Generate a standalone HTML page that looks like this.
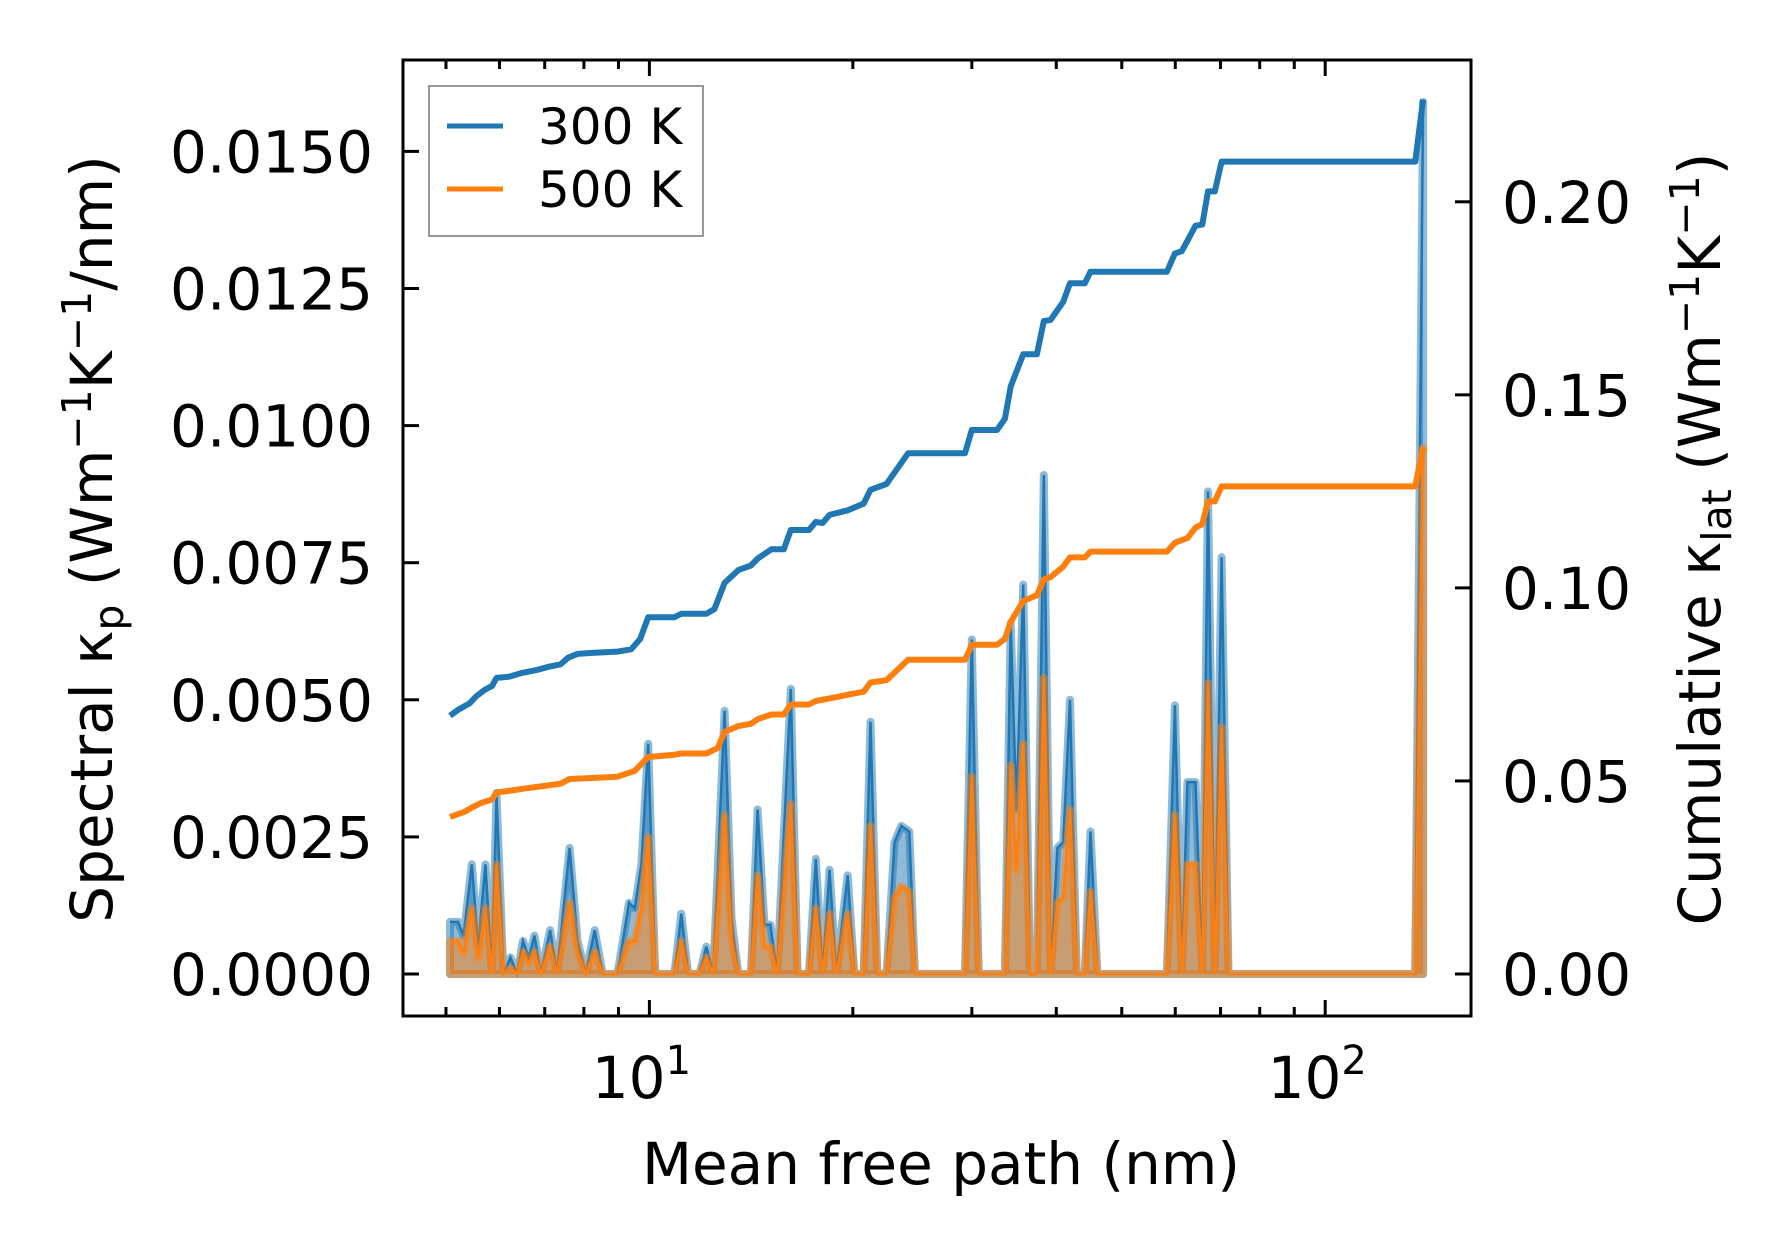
<!DOCTYPE html>
<html><head><meta charset="utf-8"><style>
html,body{margin:0;padding:0;background:#fff;}
svg{display:block;font-family:"DejaVu Sans","Liberation Sans",sans-serif;}
</style></head><body>
<svg id="chart" width="1790" height="1254" viewBox="0 0 1790 1254" xmlns="http://www.w3.org/2000/svg"></svg>
<script>
// ---- data ----
const specMfp = [5.07,5.21,5.31,5.46,5.58,5.72,5.85,5.94,6.08,6.23,6.37,6.50,6.63,6.76,6.91,7.13,7.30,7.62,7.83,8.05,8.30,8.53,8.97,9.33,9.51,9.73,9.96,10.20,10.89,11.15,11.41,11.86,12.14,12.43,12.92,13.23,13.54,14.13,14.46,14.80,15.10,15.45,16.19,16.57,17.22,17.63,18.04,18.47,18.90,19.65,20.11,20.75,21.24,21.74,22.43,23.05,23.59,24.24,24.71,29.31,30.00,30.71,32.68,33.58,34.25,34.92,35.74,36.58,37.45,38.33,39.23,40.16,40.95,41.92,42.90,44.09,44.95,46.01,58.32,59.93,61.34,62.54,64.27,65.78,67.07,68.65,70.26,71.92,135.9,139.6];
const spec300 = [0.00095,0.00095,0.0007,0.0020,0.0005,0.0020,0,0.0033,0,0.0003,0,0.0006,0.0003,0.0007,0,0.0008,0,0.0023,0.0006,0,0.0008,0,0,0.0013,0.0012,0.0020,0.0042,0,0,0.0011,0,0,0.0005,0,0.0048,0.0010,0,0,0.0030,0.0009,0.0009,0,0.0052,0,0,0.0021,0,0.0019,0,0.0018,0,0,0.0046,0,0,0.0024,0.0027,0.0026,0,0,0.0061,0,0,0,0.0064,0.0030,0.0071,0,0,0.0091,0,0.0023,0.0024,0.0050,0,0,0.0026,0,0,0.0049,0,0.0035,0.0035,0,0.0088,0,0.0076,0,0,0.0159];
const spec500 = [0.0006,0.0006,0.0004,0.0012,0.0003,0.0012,0,0.0020,0,0.0001,0,0.0004,0.0002,0.0004,0,0.0005,0,0.0013,0.0004,0,0.0004,0,0,0.0006,0.0006,0.0012,0.0025,0,0,0.0006,0,0,0.0003,0,0.0029,0.0006,0,0,0.0018,0.0005,0.0005,0,0.0031,0,0,0.0012,0,0.0011,0,0.0011,0,0,0.0027,0,0,0.0014,0.0016,0.0015,0,0,0.0036,0,0,0,0.0038,0.0019,0.0042,0,0,0.0054,0,0.0013,0.0014,0.0030,0,0,0.0015,0,0,0.0029,0,0.0020,0.0020,0,0.0053,0,0.0045,0,0,0.0096];
const cumMfp300 = [5.07,5.21,5.42,5.54,5.72,5.85,5.94,6.20,6.45,6.83,7.10,7.39,7.59,7.83,8.30,8.97,9.40,9.69,9.96,10.89,11.15,12.14,12.48,12.92,13.54,14.13,14.46,15.15,15.81,16.19,17.22,17.63,18.04,18.47,19.65,20.75,21.24,22.43,24.14,29.31,30.00,32.68,33.58,34.25,35.74,37.45,38.33,39.23,40.95,41.92,44.09,44.95,58.32,59.93,61.34,64.27,65.78,67.07,68.65,70.26,135.9,139.6];
const cum300 = [0.0669,0.0684,0.0701,0.0719,0.0737,0.0746,0.0767,0.0770,0.0779,0.0788,0.0796,0.0802,0.0820,0.0829,0.0832,0.0835,0.0841,0.0868,0.0924,0.0924,0.0933,0.0933,0.0945,0.1013,0.1046,0.1058,0.1076,0.1100,0.1100,0.1150,0.1150,0.1171,0.1168,0.1189,0.1201,0.1218,0.1254,0.1269,0.1349,0.1349,0.1409,0.1409,0.1438,0.1522,0.1605,0.1605,0.1691,0.1694,0.1741,0.1789,0.1789,0.1819,0.1819,0.1866,0.1872,0.1938,0.1941,0.2027,0.2027,0.2104,0.2104,0.2265];
const cumMfp500 = [5.07,5.31,5.46,5.63,5.85,5.94,6.23,6.57,6.97,7.39,7.62,8.30,8.97,9.51,9.96,10.89,11.15,12.14,12.62,12.92,13.54,14.13,14.46,15.15,15.81,16.19,17.22,17.63,18.76,19.88,20.75,21.24,22.43,24.14,29.31,30.00,32.68,33.58,34.25,35.74,37.45,38.33,39.23,40.95,41.92,44.09,44.95,58.32,59.93,62.54,64.27,65.78,67.07,68.65,70.26,135.9,139.6];
const cum500 = [0.0407,0.0419,0.0431,0.0443,0.0452,0.0470,0.0475,0.0481,0.0487,0.0493,0.0505,0.0508,0.0511,0.0526,0.0562,0.0568,0.0571,0.0571,0.0585,0.0627,0.0642,0.0648,0.0660,0.0672,0.0672,0.0698,0.0698,0.0707,0.0716,0.0725,0.0731,0.0755,0.0761,0.0814,0.0814,0.0853,0.0853,0.0868,0.0912,0.0966,0.0981,0.1022,0.1028,0.1055,0.1079,0.1079,0.1094,0.1094,0.1117,0.1129,0.1156,0.1165,0.1224,0.1224,0.1263,0.1263,0.1364];
const leftTicks = [0,0.0025,0.005,0.0075,0.01,0.0125,0.015];
const leftTickLabels = ["0.0000","0.0025","0.0050","0.0075","0.0100","0.0125","0.0150"];
const rightTicks = [0,0.05,0.1,0.15,0.2];
const rightTickLabels = ["0.00","0.05","0.10","0.15","0.20"];
const xMajor = [10,100];
const xMinor = [5,6,7,8,9,20,30,40,50,60,70,80,90];

// ---- axes ----
const L=403,R=1471,T=60,B=1016;
const X = v => 649.4 + (Math.log10(v)-1)*675.8;
const YL = v => 974 - v/0.0025*137.1;
const YR = v => 974 - v/0.05*193.05;
const svg = document.getElementById('chart');
const NS='http://www.w3.org/2000/svg';
function mk(tag, attrs, parent){
  const e=document.createElementNS(NS,tag);
  for(const k in attrs) e.setAttribute(k,attrs[k]);
  (parent||svg).appendChild(e); return e;
}
const clip = mk('clipPath',{id:'plotclip'});
mk('rect',{x:L,y:T,width:R-L,height:B-T},clip);
const plot = mk('g',{'clip-path':'url(#plotclip)'});



function linePts(xs,ys,fy){ return xs.map((m,i)=>X(m).toFixed(1)+','+fy(ys[i]).toFixed(1)).join(' '); }
function areaPath(xs,ys,fy){
  let d='M'+X(xs[0]).toFixed(1)+','+fy(0).toFixed(1);
  xs.forEach((m,i)=>{ d+=' L'+X(m).toFixed(1)+','+fy(ys[i]).toFixed(1); });
  d+=' L'+X(xs[xs.length-1]).toFixed(1)+','+fy(0).toFixed(1)+' Z'; return d;
}
const a3 = mk('path',{d:areaPath(specMfp,spec300,YL),fill:'#1f77b4','fill-opacity':0.5,stroke:'#1f77b4','stroke-opacity':0.5,'stroke-width':8,'stroke-linejoin':'round'},plot);


const l3 = mk('polyline',{points:linePts(specMfp,spec300,YL),fill:'none',stroke:'#1f77b4','stroke-width':2.5},plot);


const a5 = mk('path',{d:areaPath(specMfp,spec500,YL),fill:'#ff7f0e','fill-opacity':0.5,stroke:'#ff7f0e','stroke-opacity':0.5,'stroke-width':8,'stroke-linejoin':'round'},plot);


const l5 = mk('polyline',{points:linePts(specMfp,spec500,YL),fill:'none',stroke:'#ff7f0e','stroke-width':2.5},plot);


const c3 = mk('polyline',{points:linePts(cumMfp300,cum300,YR),fill:'none',stroke:'#1f77b4','stroke-width':6,'stroke-linejoin':'round'},plot);


const c5 = mk('polyline',{points:linePts(cumMfp500,cum500,YR),fill:'none',stroke:'#ff7f0e','stroke-width':6,'stroke-linejoin':'round'},plot);



const frame = mk('rect',{x:L,y:T,width:R-L,height:B-T,fill:'none',stroke:'#000','stroke-width':3});



const tg = mk('g',{stroke:'#000','stroke-width':3});


xMajor.forEach(v=>{ const x=X(v);
  mk('line',{x1:x,y1:B,x2:x,y2:B-16},tg); mk('line',{x1:x,y1:T,x2:x,y2:T+16},tg); });
xMinor.forEach(v=>{ const x=X(v);
  mk('line',{x1:x,y1:B,x2:x,y2:B-9},tg); mk('line',{x1:x,y1:T,x2:x,y2:T+9},tg); });
leftTicks.forEach(v=>{ mk('line',{x1:L,y1:YL(v),x2:L+16,y2:YL(v)},tg); });
rightTicks.forEach(v=>{ mk('line',{x1:R,y1:YR(v),x2:R-16,y2:YR(v)},tg); });

leftTicks.forEach((v,i)=>{
  const t=mk('text',{x:373,y:YL(v)+21,'text-anchor':'end','font-size':58});
  t.textContent=leftTickLabels[i];
  
  
});
rightTicks.forEach((v,i)=>{
  const t=mk('text',{x:1502,y:YR(v)+21,'text-anchor':'start','font-size':58});
  t.textContent=rightTickLabels[i];
  
  
});
xMajor.forEach((v,i)=>{
  const t=mk('text',{x:X(v)-8,y:1098,'text-anchor':'middle','font-size':58});
  t.textContent='10';
  const s=mk('tspan',{dy:-24,'font-size':40}, t); s.textContent=String(i+1);
  
  
});
</script>
<svg style="position:absolute;left:0;top:0" width="1790" height="1254" xmlns="http://www.w3.org/2000/svg" font-family="DejaVu Sans, Liberation Sans, sans-serif">
  <text x="941" y="1184" text-anchor="middle" font-size="58">Mean free path (nm)</text>
  <text transform="translate(112,539) rotate(-90)" text-anchor="middle" font-size="58">Spectral κ<tspan font-size="41" dy="11">p</tspan><tspan dy="-11"> (Wm</tspan><tspan font-size="41" dy="-21">−1</tspan><tspan dy="21">K</tspan><tspan font-size="41" dy="-21">−1</tspan><tspan dy="21">/nm)</tspan></text>
  <text transform="translate(1720,539) rotate(-90)" text-anchor="middle" font-size="58">Cumulative κ<tspan font-size="41" dy="11">lat</tspan><tspan dy="-11"> (Wm</tspan><tspan font-size="41" dy="-21">−1</tspan><tspan dy="21">K</tspan><tspan font-size="41" dy="-21">−1</tspan><tspan dy="21">)</tspan></text>
  <g>
    <rect x="429" y="86" width="274" height="150" fill="#fff" stroke="#999" stroke-width="2"/>
    <line x1="447" y1="126" x2="503" y2="126" stroke="#1f77b4" stroke-width="5"/>
    <text x="538" y="144" font-size="50">300 K</text>
    <line x1="447" y1="189" x2="503" y2="189" stroke="#ff7f0e" stroke-width="5"/>
    <text x="538" y="207" font-size="50">500 K</text>
  </g>
</svg>
</body></html>
